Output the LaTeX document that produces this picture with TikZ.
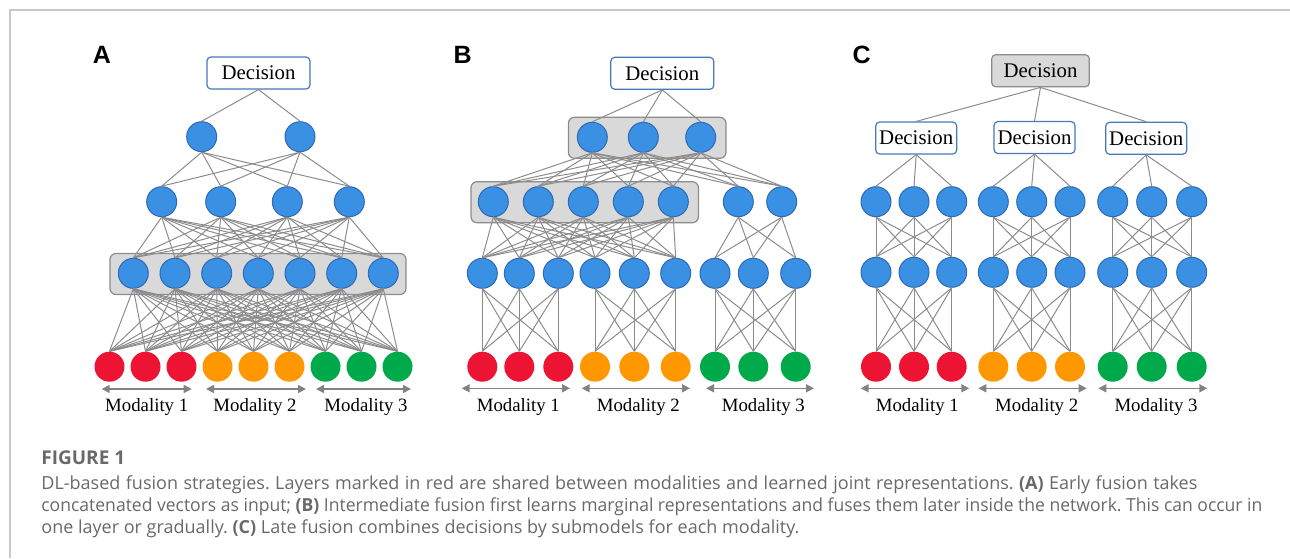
\documentclass[tikz,border=0pt]{standalone}
\usepackage{fontspec}
\setmainfont{Liberation Serif}
\newfontfamily\panelfont{Liberation Sans}
\newfontfamily\capfont{Open Sans}
\usetikzlibrary{arrows.meta}

\definecolor{unitblue}{RGB}{58,145,228}
\definecolor{unitedge}{RGB}{45,105,180}
\definecolor{modred}{RGB}{236,20,50}
\definecolor{modorange}{RGB}{255,152,0}
\definecolor{modgreen}{RGB}{0,170,75}
\definecolor{linkgray}{RGB}{140,140,140}
\definecolor{sharegray}{RGB}{217,217,217}
\definecolor{boxedge}{RGB}{140,140,140}
\definecolor{decedge}{RGB}{70,120,190}
\definecolor{spangray}{RGB}{130,130,130}
\definecolor{capgray}{RGB}{105,105,105}
\definecolor{framegray}{RGB}{200,200,200}

\tikzset{
  unit/.style={circle,draw=unitedge,fill=unitblue,line width=0.5pt,minimum size=15pt,inner sep=0pt},
  inred/.style={circle,fill=modred,minimum size=15pt,inner sep=0pt},
  inorange/.style={circle,fill=modorange,minimum size=15pt,inner sep=0pt},
  ingreen/.style={circle,fill=modgreen,minimum size=15pt,inner sep=0pt},
  link/.style={draw=linkgray,line width=0.5pt},
  decbox/.style={rectangle,rounded corners=2pt,draw=decedge,fill=white,line width=0.6pt,
    minimum width=51.5pt,minimum height=16pt,inner sep=0pt,font=\fontsize{10.4}{12}\selectfont},
  subdec/.style={decbox,minimum width=40.5pt},
  topdec/.style={decbox,draw=boxedge,fill=sharegray,minimum width=48.8pt},
  shared/.style={rectangle,rounded corners=3pt,draw=boxedge,fill=sharegray,line width=0.6pt,minimum height=20.5pt},
  span/.style={draw=spangray,line width=0.75pt,{Triangle[length=4pt,width=4pt]}-{Triangle[length=4pt,width=4pt]}},
  modlabel/.style={font=\fontsize{9.4}{11}\selectfont},
  panel/.style={font=\panelfont\bfseries\fontsize{12.5}{14}\selectfont},
  capline/.style={anchor=west,inner sep=0pt,font=\capfont\frenchspacing\fontsize{9}{10}\selectfont,text=capgray},
}

\begin{document}
\begin{tikzpicture}[x=0.5pt,y=-0.5pt]

  \useasboundingbox (0,0) rectangle (1290,558);
  \draw[framegray,line width=0.75pt] (10,558) -- (10,10) -- (1290,10);

  % Panel letters
  \draw (102,55)   node(PA) [panel] {A};
  \draw (462.7,55) node(PB) [panel] {B};
  \draw (861.7,55) node(PC) [panel] {C};

  % ---------------- A: early fusion
  \draw (258,274) node(AShare) [shared,minimum width=148pt] {};
  \foreach \x/\s [count=\i] in {109.5/inred,145.5/inred,181.5/inred,217.5/inorange,253.5/inorange,
                                289.5/inorange,325.5/ingreen,361.5/ingreen,397.5/ingreen}
    \draw (\x,366.7) node(AI\i) [\s] {};
  \foreach \x [count=\i] in {133.3,175,216.7,258.3,300,341.7,383.3}
    \draw (\x,273.3) node(AS\i) [unit] {};
  \foreach \x [count=\i] in {161.7,220.7,287.3,349.3}
    \draw (\x,201.7) node(AH\i) [unit] {};
  \draw (201.7,136.7) node(AT1) [unit] {};
  \draw (300,136.7)   node(AT2) [unit] {};
  \draw (258.5,73)    node(ADec) [decbox] {Decision};

  \foreach \i in {1,...,9} \foreach \j in {1,...,7} \draw[link] (AI\i.north) -- (AS\j.south);
  \foreach \i in {1,...,7} \foreach \j in {1,...,4} \draw[link] (AS\i.north) -- (AH\j.south);
  \foreach \i in {1,...,4} \foreach \j in {1,2}     \draw[link] (AH\i.north) -- (AT\j.south);
  \foreach \j in {1,2} \draw[link] (AT\j.north) -- (ADec.south);

  % ---------------- B: intermediate fusion
  \draw (647.2,137.8) node(BShareTop) [shared,minimum width=78.8pt] {};
  \draw (584.7,202.2) node(BShareMid) [shared,minimum width=113.7pt] {};
  \foreach \x/\s [count=\i] in {482.3/inred,519.3/inred,558.3/inred,595/inorange,634.3/inorange,
                                675.7/inorange,715/ingreen,753.3/ingreen,795.7/ingreen}
  {
    \draw (\x,366.7) node(BI\i) [\s] {};
    \draw (\x,273.3) node(BH\i) [unit] {};
  }
  \foreach \x [count=\i] in {493.3,538.3,583.3,628.3,673.3,738.3,781.7}
    \draw (\x,201.7) node(BS\i) [unit] {};
  \foreach \x [count=\i] in {592.3,643.3,700.7}
    \draw (\x,137.3) node(BT\i) [unit] {};
  \draw (662.3,73.3) node(BDec) [decbox] {Decision};

  \foreach \g in {0,3,6} \foreach \a in {1,2,3} \foreach \b in {1,2,3} {
    \pgfmathtruncatemacro\p{\g+\a}\pgfmathtruncatemacro\q{\g+\b}
    \draw[link] (BI\p.north) -- (BH\q.south);
  }
  \foreach \i in {1,...,6} \foreach \j in {1,...,5} \draw[link] (BH\i.north) -- (BS\j.south);
  \foreach \i in {7,8,9}   \foreach \j in {6,7}     \draw[link] (BH\i.north) -- (BS\j.south);
  \foreach \i in {1,...,7} \foreach \j in {1,2,3}   \draw[link] (BS\i.north) -- (BT\j.south);
  \foreach \j in {1,2,3} \draw[link] (BT\j.north) -- (BDec.south);

  % ---------------- C: late fusion
  \foreach \x/\s [count=\i] in {876/inred,914/inred,951.7/inred,993.3/inorange,1031.7/inorange,
                                1070/inorange,1112.7/ingreen,1151.7/ingreen,1191.7/ingreen}
  {
    \draw (\x,366.7) node(CI\i) [\s] {};
    \draw (\x,272.3) node(CL\i) [unit] {};
    \draw (\x,201.7) node(CU\i) [unit] {};
  }
  \draw (916.2,138)    node(CD1) [subdec] {Decision};
  \draw (1034.5,137.5) node(CD2) [subdec] {Decision};
  \draw (1146.2,138.3) node(CD3) [subdec] {Decision};
  \draw (1040.5,70.8)  node(CDec) [topdec] {Decision};

  \foreach \g [count=\k] in {0,3,6} {
    \foreach \a in {1,2,3} {
      \pgfmathtruncatemacro\p{\g+\a}
      \draw[link] (CU\p.north) -- (CD\k.south);
      \foreach \b in {1,2,3} {
        \pgfmathtruncatemacro\q{\g+\b}
        \draw[link] (CI\p.north) -- (CL\q.south);
        \draw[link] (CL\p.north) -- (CU\q.south);
      }
    }
  }
  \foreach \k in {1,2,3} \draw[link] (CD\k.north) -- (CDec.south);

  % Modality spans
  \foreach \p/\y/\ya/\xa/\xb/\xc/\xd/\xe/\xf/\la/\lb/\lc in
     {A/389/406.7/101.7/191.7/206/306/316/411/146.7/255/366,
      B/388.3/406.7/461.7/570/581.7/690/706/814/518.3/638.3/763.3,
      C/388.3/406.7/860.7/969.3/978.3/1086.7/1098.3/1207.3/917.3/1036.7/1156}
  {
    \coordinate (\p W1) at (\xa,\y); \coordinate (\p E1) at (\xb,\y);
    \coordinate (\p W2) at (\xc,\y); \coordinate (\p E2) at (\xd,\y);
    \coordinate (\p W3) at (\xe,\y); \coordinate (\p E3) at (\xf,\y);
    \draw[span] (\p W1) -- (\p E1);
    \draw[span] (\p W2) -- (\p E2);
    \draw[span] (\p W3) -- (\p E3);
    \draw (\la,\ya) node(\p Mod1) [modlabel] {Modality 1};
    \draw (\lb,\ya) node(\p Mod2) [modlabel] {Modality 2};
    \draw (\lc,\ya) node(\p Mod3) [modlabel] {Modality 3};
  }

  % Caption
  \draw (41,458) node(FigHead) [capline,font=\capfont\bfseries\fontsize{9.5}{10}\selectfont] {FIGURE 1};
  \draw (41,485) node(Cap1) [capline] {\makebox[578pt][s]{DL-based fusion strategies. Layers marked in red are shared between modalities and learned joint representations. \textbf{(A)} Early fusion takes}};
  \draw (41,507) node(Cap2) [capline] {\resizebox{610.5pt}{\height}{concatenated vectors as input; \textbf{(B)} Intermediate fusion first learns marginal representations and fuses them later inside the network. This can occur in}};
  \draw (41,529) node(Cap3) [capline] {one layer or gradually. \textbf{(C)} Late fusion combines decisions by submodels for each modality.};

\end{tikzpicture}
\end{document}
